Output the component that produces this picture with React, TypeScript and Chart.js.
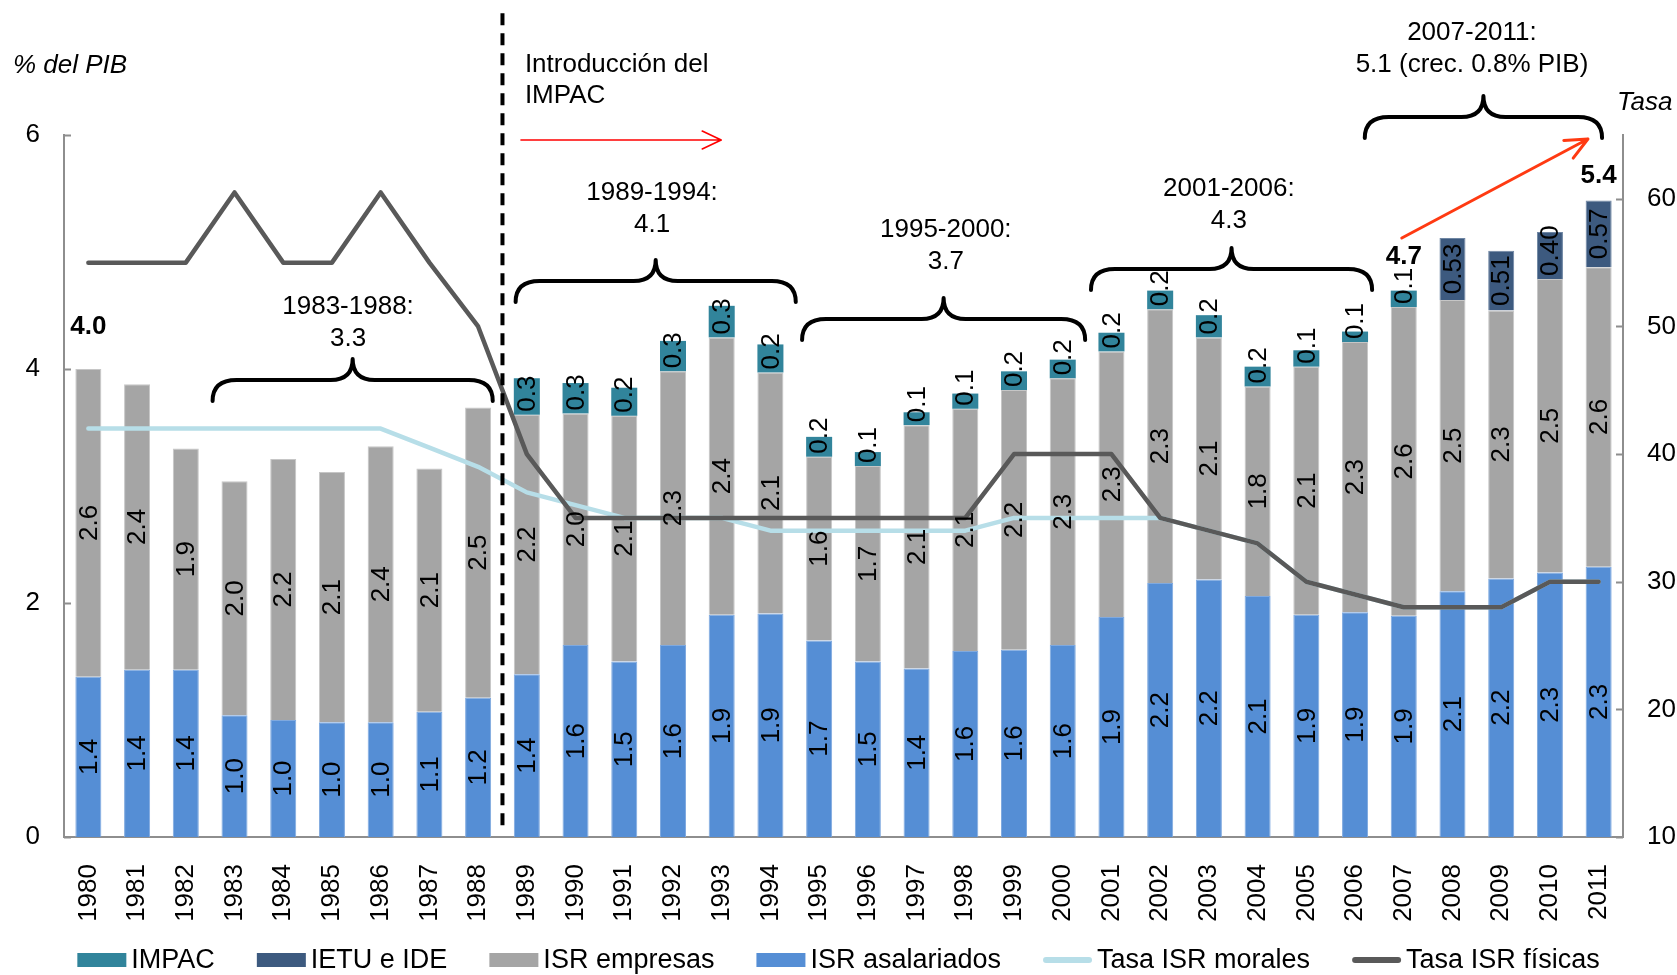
import React, { useEffect, useRef } from "react";
import { Chart, registerables } from "chart.js";

Chart.register(...registerables);

// ---------------- DATA ----------------
const YEARS = [
  "1980", "1981", "1982", "1983", "1984", "1985", "1986", "1987", "1988", "1989",
  "1990", "1991", "1992", "1993", "1994", "1995", "1996", "1997", "1998", "1999",
  "2000", "2001", "2002", "2003", "2004", "2005", "2006", "2007", "2008", "2009",
  "2010", "2011",
];

const ISR_ASALARIADOS = [
  1.37, 1.43, 1.43, 1.04, 1.0, 0.98, 0.98, 1.07, 1.19, 1.39,
  1.64, 1.5, 1.64, 1.9, 1.91, 1.68, 1.5, 1.44, 1.59, 1.6,
  1.64, 1.88, 2.17, 2.2, 2.06, 1.9, 1.92, 1.89, 2.1, 2.21,
  2.26, 2.31,
];

const ISR_EMPRESAS = [
  2.63, 2.44, 1.89, 2.0, 2.23, 2.14, 2.36, 2.08, 2.48, 2.22,
  1.98, 2.1, 2.34, 2.37, 2.06, 1.57, 1.67, 2.08, 2.07, 2.22,
  2.28, 2.27, 2.34, 2.07, 1.79, 2.12, 2.31, 2.64, 2.49, 2.29,
  2.51, 2.56,
];

const IMPAC: (number | null)[] = [
  null, null, null, null, null, null, null, null, null, 0.31,
  0.26, 0.24, 0.26, 0.27, 0.24, 0.17, 0.12, 0.11, 0.13, 0.16,
  0.16, 0.16, 0.16, 0.19, 0.17, 0.14, 0.09, 0.14, null, null,
  null, null,
];

const IETU_IDE: (number | null)[] = [
  null, null, null, null, null, null, null, null, null, null,
  null, null, null, null, null, null, null, null, null, null,
  null, null, null, null, null, null, null, null, 0.53, 0.51,
  0.4, 0.57,
];

const TASA_MORALES = [
  42, 42, 42, 42, 42, 42, 42, 40.5, 39, 37,
  36, 35, 35, 35, 34, 34, 34, 34, 34, 35,
  35, 35, 35, 34, 33, 30, 29, 28, 28, 28,
  30, 30,
];

const TASA_FISICAS = [
  55, 55, 55, 60.5, 55, 55, 60.5, 55, 50, 40,
  35, 35, 35, 35, 35, 35, 35, 35, 35, 40,
  40, 40, 35, 34, 33, 30, 29, 28, 28, 28,
  30, 30,
];

const LEFT_TICKS = [0, 2, 4, 6];
const RIGHT_TICKS = [10, 20, 30, 40, 50, 60];

// total labels (bold) shown above selected bars
const TOTAL_LABEL_YEARS = ["1980", "2007", "2011"];

// period braces: start/end in category units, brace line at left-axis value
const BRACES = [
  { from: 2.55, to: 8.3, at: 3.906, textX: 5.33, textY: 4.53, lines: ["1983-1988:", "3.3"] },
  { from: 8.77, to: 14.52, at: 4.752, textX: 11.57, textY: 5.504, lines: ["1989-1994:", "4.1"] },
  { from: 14.65, to: 20.46, at: 4.427, textX: 17.6, textY: 5.188, lines: ["1995-2000:", "3.7"] },
  { from: 20.58, to: 26.35, at: 4.855, textX: 23.41, textY: 5.538, lines: ["2001-2006:", "4.3"] },
  { from: 26.2, to: 31.07, at: 6.154, textX: 28.4, textY: 6.872, lines: ["2007-2011:", "5.1 (crec. 0.8% PIB)"] },
];

// ---------------- STYLE ----------------
const FONT = '"Liberation Sans", Arial, Helvetica, sans-serif';
const C_IMPAC = "#31849B";
const C_IETU = "#3D5A7F";
const C_EMP = "#A5A5A5";
const C_ASAL = "#558ED5";
const C_MORALES = "#B7DEE8";
const C_FISICAS = "#595959";
const C_AXIS = "#8E8E8E";

const LEGEND_ITEMS = [
  { label: "IMPAC", color: C_IMPAC, kind: "box" },
  { label: "IETU e IDE", color: C_IETU, kind: "box" },
  { label: "ISR empresas", color: C_EMP, kind: "box" },
  { label: "ISR asalariados", color: C_ASAL, kind: "box" },
  { label: "Tasa ISR morales", color: C_MORALES, kind: "line" },
  { label: "Tasa ISR físicas", color: C_FISICAS, kind: "line" },
];

function drawBrace(ctx: CanvasRenderingContext2D, x0: number, x1: number, y: number) {
  const xm = (x0 + x1) / 2;
  const drop = 21;
  const r = 24;
  const rise = 21;
  const m = 22;
  ctx.beginPath();
  ctx.moveTo(x0, y + drop);
  ctx.quadraticCurveTo(x0, y, x0 + r, y);
  ctx.lineTo(xm - m, y);
  ctx.quadraticCurveTo(xm, y, xm, y - rise);
  ctx.quadraticCurveTo(xm, y, xm + m, y);
  ctx.lineTo(x1 - r, y);
  ctx.quadraticCurveTo(x1, y, x1, y + drop);
  ctx.stroke();
}

function drawArrow(
  ctx: CanvasRenderingContext2D,
  x0: number, y0: number, x1: number, y1: number,
  color: string, width: number, headLen: number, headHalf: number
) {
  const ang = Math.atan2(y1 - y0, x1 - x0);
  const ux = Math.cos(ang), uy = Math.sin(ang);
  const px = -uy, py = ux;
  ctx.save();
  ctx.strokeStyle = color;
  ctx.lineWidth = width;
  ctx.lineCap = "round";
  ctx.lineJoin = "round";
  ctx.beginPath();
  ctx.moveTo(x0, y0);
  ctx.lineTo(x1, y1);
  ctx.moveTo(x1 - ux * headLen + px * headHalf, y1 - uy * headLen + py * headHalf);
  ctx.lineTo(x1, y1);
  ctx.lineTo(x1 - ux * headLen - px * headHalf, y1 - uy * headLen - py * headHalf);
  ctx.stroke();
  ctx.restore();
}

const BAR_SERIES = [
  { values: ISR_ASALARIADOS as (number | null)[], decimals: 1 },
  { values: ISR_EMPRESAS as (number | null)[], decimals: 1 },
  { values: IMPAC, decimals: 1 },
  { values: IETU_IDE, decimals: 2 },
];

const customPlugin = {
  id: "customDecor",
  afterDatasetsDraw(chart: any) {
    const ctx: CanvasRenderingContext2D = chart.ctx;
    const ys = chart.scales.y;
    // segment labels
    ctx.save();
    ctx.font = `26px ${FONT}`;
    ctx.fillStyle = "#000";
    ctx.textAlign = "center";
    ctx.textBaseline = "middle";
    BAR_SERIES.forEach((s, di) => {
      const meta = chart.getDatasetMeta(di);
      meta.data.forEach((el: any, i: number) => {
        const v = s.values[i];
        if (v == null) return;
        const { x, y, base } = el.getProps(["x", "y", "base"], true);
        const txt = v.toFixed(s.decimals);
        const len = ctx.measureText(txt).width;
        const segH = Math.abs(base - y);
        let cy = (y + base) / 2;
        if (len + 4 > segH) cy = base - 3 - len / 2;
        ctx.save();
        ctx.translate(x, cy);
        ctx.rotate(-Math.PI / 2);
        ctx.fillText(txt, 0, 1);
        ctx.restore();
      });
    });
    // bold totals
    ctx.font = `bold 26px ${FONT}`;
    TOTAL_LABEL_YEARS.forEach((yr) => {
      const i = YEARS.indexOf(yr);
      let total = 0;
      BAR_SERIES.forEach((s) => (total += s.values[i] ?? 0));
      const x = chart.scales.x.getPixelForValue(i);
      const top = ys.getPixelForValue(total);
      const gap = i === 0 ? 42 : i === YEARS.length - 1 ? 25 : 34;
      ctx.fillText(total.toFixed(1), x, top - gap);
    });
    ctx.restore();
  },
  afterDraw(chart: any) {
    const ctx: CanvasRenderingContext2D = chart.ctx;
    const xs = chart.scales.x;
    const ys = chart.scales.y;
    const y1s = chart.scales.y1;
    const area = chart.chartArea;
    const X = (v: number) => xs.getPixelForValue(v);
    const Y = (v: number) => ys.getPixelForValue(v);

    ctx.save();
    // inside tick marks
    ctx.strokeStyle = C_AXIS;
    ctx.lineWidth = 2;
    ctx.beginPath();
    LEFT_TICKS.forEach((t) => {
      const y = Math.round(Y(t)) + 0.5;
      ctx.moveTo(area.left, y);
      ctx.lineTo(area.left + 7, y);
    });
    RIGHT_TICKS.forEach((t) => {
      const y = Math.round(y1s.getPixelForValue(t)) + 0.5;
      ctx.moveTo(area.right, y);
      ctx.lineTo(area.right - 7, y);
    });
    ctx.stroke();

    // dashed separator between 1988 and 1989
    const dx = X(8.5);
    ctx.strokeStyle = "#000";
    ctx.lineWidth = 4;
    ctx.setLineDash([12, 8]);
    ctx.beginPath();
    ctx.moveTo(dx, Y(7.04));
    ctx.lineTo(dx, Y(0.04));
    ctx.stroke();
    ctx.setLineDash([]);

    // braces + texts
    ctx.lineWidth = 4;
    ctx.lineCap = "round";
    ctx.lineJoin = "round";
    ctx.fillStyle = "#000";
    ctx.textAlign = "center";
    ctx.textBaseline = "middle";
    ctx.font = `26px ${FONT}`;
    BRACES.forEach((b) => {
      drawBrace(ctx, X(b.from), X(b.to), Y(b.at));
      const tx = X(b.textX);
      const ty = Y(b.textY);
      b.lines.forEach((ln, k) => ctx.fillText(ln, tx, ty + k * 32));
    });

    // IMPAC introduction note
    ctx.textAlign = "left";
    ctx.fillText("Introducción del", X(8.96), Y(6.598));
    ctx.fillText("IMPAC", X(8.96), Y(6.598) + 31);
    drawArrow(ctx, X(8.88), Y(5.957), X(12.99), Y(5.957), "#FF0000", 1.6, 19, 9);
    drawArrow(ctx, X(26.96), Y(5.12), X(30.78), Y(5.966), "#FF3A12", 3, 22, 10);

    // axis titles
    ctx.font = `italic 26px ${FONT}`;
    ctx.textAlign = "left";
    ctx.fillText("% del PIB", 13, area.top - 69);
    ctx.fillText("Tasa", area.right - 6, area.top - 32);

    // legend
    ctx.font = `27px ${FONT}`;
    const markW = 49, markGap = 5, itemGap = 42;
    const widths = LEGEND_ITEMS.map((it) => markW + markGap + ctx.measureText(it.label).width);
    const total = widths.reduce((a, b) => a + b, 0) + itemGap * (LEGEND_ITEMS.length - 1);
    let lx = chart.width / 2 - total / 2;
    const ly = 960;
    LEGEND_ITEMS.forEach((it, k) => {
      if (it.kind === "box") {
        ctx.fillStyle = it.color;
        ctx.fillRect(lx, ly - 7, markW, 14);
      } else {
        ctx.strokeStyle = it.color;
        ctx.lineWidth = 6;
        ctx.lineCap = "round";
        ctx.beginPath();
        ctx.moveTo(lx + 3, ly);
        ctx.lineTo(lx + markW - 3, ly);
        ctx.stroke();
      }
      ctx.fillStyle = "#000";
      ctx.textAlign = "left";
      ctx.textBaseline = "middle";
      ctx.fillText(it.label, lx + markW + markGap, ly + 1);
      lx += widths[k] + itemGap;
    });
    ctx.restore();
  },
};

export default function App() {
  const ref = useRef<HTMLCanvasElement>(null);

  useEffect(() => {
    const canvas = ref.current;
    if (!canvas) return;
    Chart.defaults.font.family = FONT;
    const barCommon = {
      type: "bar" as const,
      stack: "s",
      yAxisID: "y",
      order: 2,
      barPercentage: 0.534,
      categoryPercentage: 1.0,
    };
    const chart = new Chart(canvas, {
      type: "bar",
      data: {
        labels: YEARS,
        datasets: [
          { ...barCommon, label: "ISR asalariados", data: ISR_ASALARIADOS, backgroundColor: C_ASAL, borderColor: "#7FA9DF", borderWidth: 1 },
          { ...barCommon, label: "ISR empresas", data: ISR_EMPRESAS, backgroundColor: C_EMP, borderColor: "#C6C6C6", borderWidth: 1 },
          { ...barCommon, label: "IMPAC", data: IMPAC as any, backgroundColor: C_IMPAC, borderWidth: 0 },
          { ...barCommon, label: "IETU e IDE", data: IETU_IDE as any, backgroundColor: C_IETU, borderColor: "#6F86A3", borderWidth: 1 },
          {
            type: "line" as const,
            label: "Tasa ISR morales",
            data: TASA_MORALES,
            yAxisID: "y1",
            order: 1,
            borderColor: C_MORALES,
            backgroundColor: C_MORALES,
            borderWidth: 4.5,
            pointRadius: 0,
            tension: 0,
            borderJoinStyle: "round",
            borderCapStyle: "round",
          } as any,
          {
            type: "line" as const,
            label: "Tasa ISR físicas",
            data: TASA_FISICAS,
            yAxisID: "y1",
            order: 0,
            borderColor: C_FISICAS,
            backgroundColor: C_FISICAS,
            borderWidth: 4.5,
            pointRadius: 0,
            tension: 0,
            borderJoinStyle: "round",
            borderCapStyle: "round",
          } as any,
        ],
      },
      options: {
        responsive: false,
        animation: false,
        devicePixelRatio: 1,
        events: [],
        layout: { padding: { top: 135, left: 0, right: 0, bottom: 0 } },
        plugins: {
          legend: { display: false },
          tooltip: { enabled: false },
          title: { display: false },
        },
        scales: {
          x: {
            type: "category",
            offset: true,
            stacked: true,
            grid: { display: false, drawTicks: false },
            border: { display: true, color: C_AXIS, width: 2 },
            ticks: {
              autoSkip: false,
              minRotation: 90,
              maxRotation: 90,
              padding: 27,
              color: "#000",
              font: { size: 26, family: FONT },
            },
            afterFit: (s: any) => {
              s.height = 138;
            },
          },
          y: {
            type: "linear",
            position: "left",
            stacked: true,
            min: 0,
            max: 6,
            grid: { display: false, drawTicks: false },
            border: { display: true, color: C_AXIS, width: 2 },
            ticks: {
              stepSize: 2,
              padding: 24,
              color: "#000",
              font: { size: 26, family: FONT },
            },
            afterBuildTicks: (s: any) => {
              s.ticks = LEFT_TICKS.map((v) => ({ value: v }));
            },
            afterFit: (s: any) => {
              s.width = 64;
            },
          },
          y1: {
            type: "linear",
            position: "right",
            min: 10,
            max: 65,
            grid: { display: false, drawTicks: false },
            border: { display: true, color: C_AXIS, width: 2 },
            ticks: {
              stepSize: 10,
              includeBounds: false,
              padding: 24,
              color: "#000",
              font: { size: 26, family: FONT },
            },
            afterBuildTicks: (s: any) => {
              s.ticks = RIGHT_TICKS.map((v) => ({ value: v }));
            },
            afterFit: (s: any) => {
              s.width = 54;
            },
          },
        },
      } as any,
      plugins: [customPlugin],
    });
    return () => chart.destroy();
  }, []);

  return (
    <div style={{ position: "fixed", left: 0, top: 0, width: 1677, height: 975, background: "#fff" }}>
      <canvas ref={ref} width={1677} height={975} style={{ width: 1677, height: 975, display: "block" }} />
    </div>
  );
}
